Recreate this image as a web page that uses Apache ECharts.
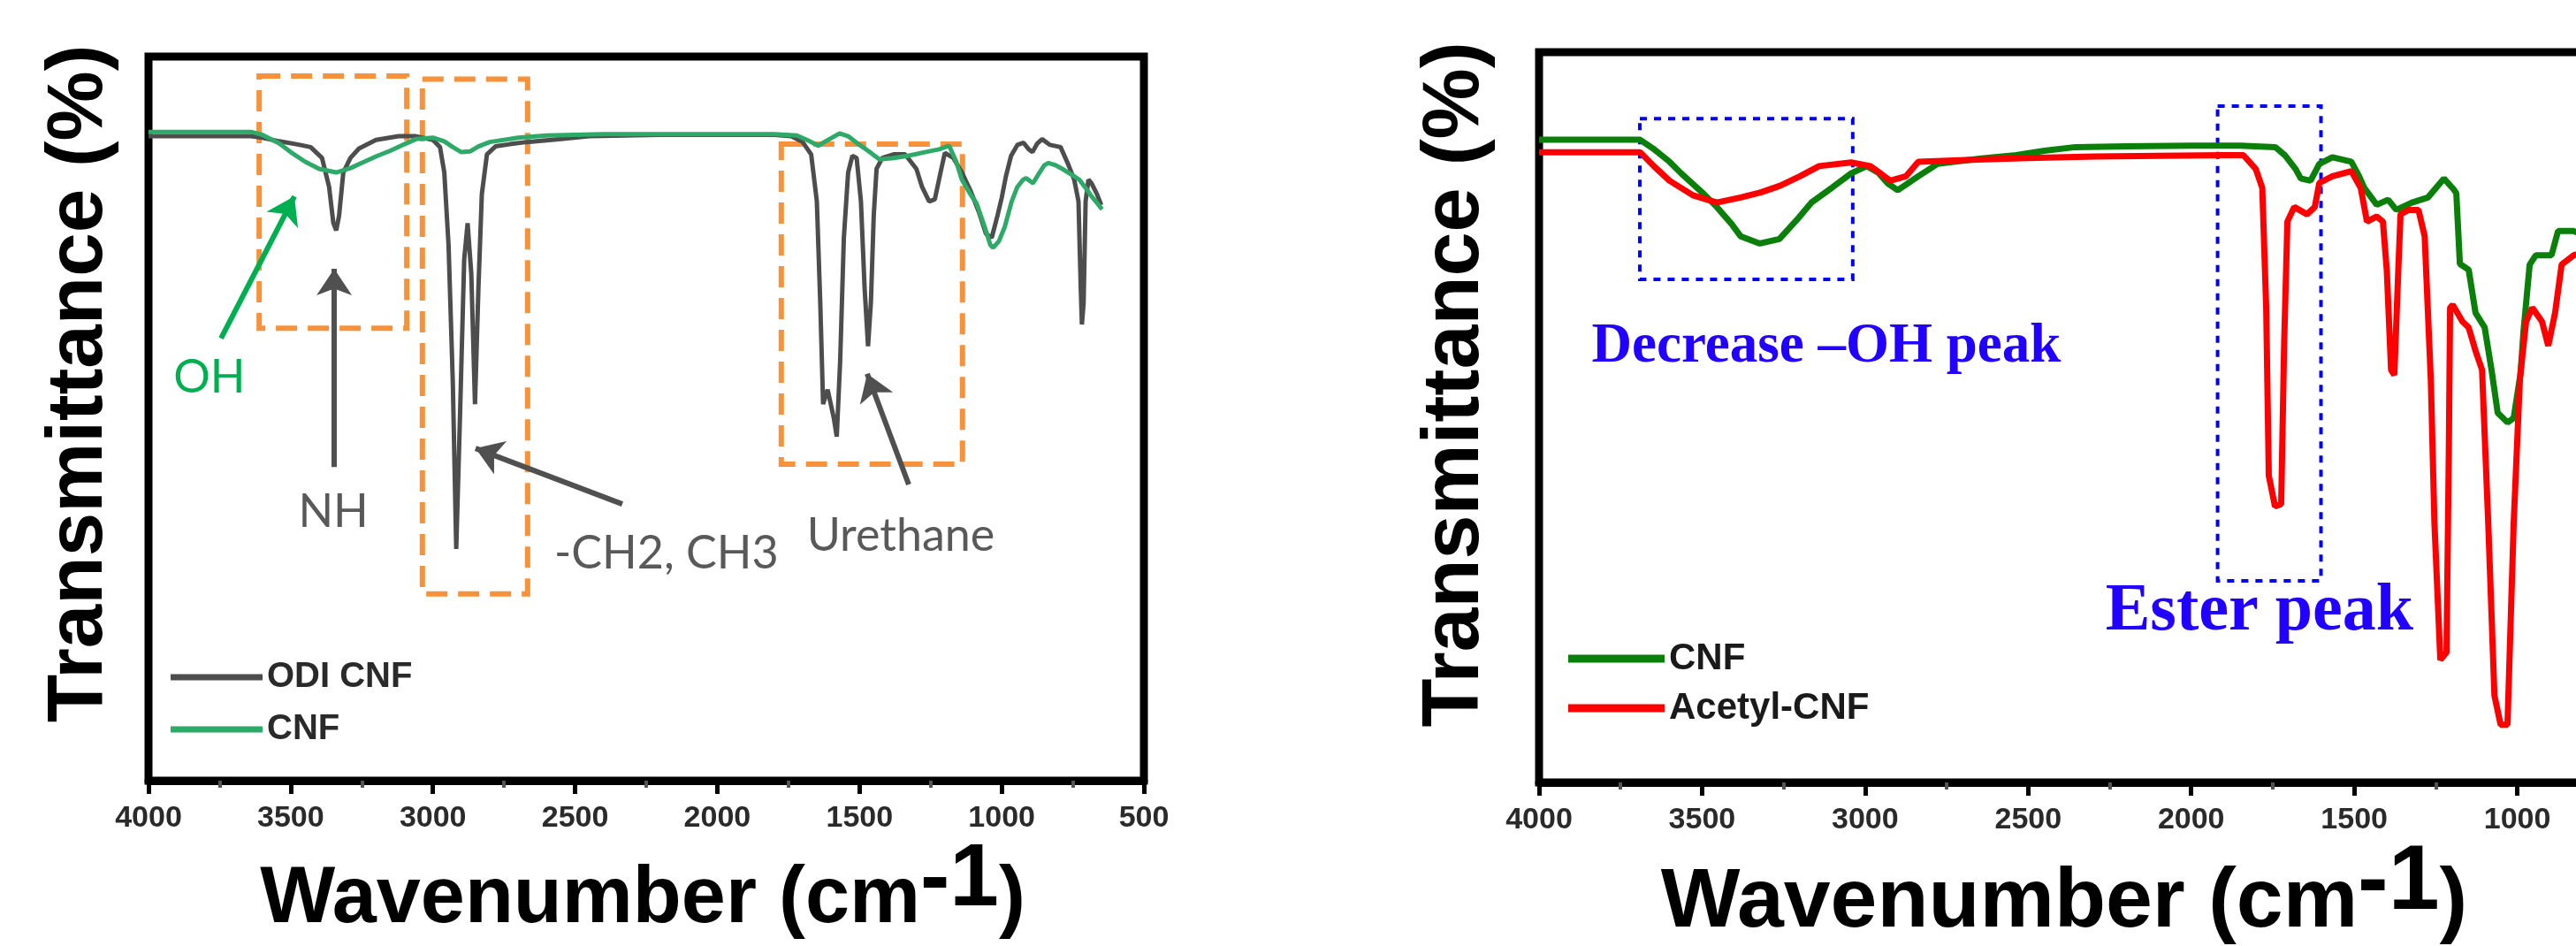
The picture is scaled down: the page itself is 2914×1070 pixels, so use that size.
<!DOCTYPE html>
<html><head><meta charset="utf-8">
<script src="https://cdn.jsdelivr.net/npm/echarts@6.0.0/dist/echarts.min.js"></script>
<style>html,body{margin:0;padding:0;background:#fff;overflow:hidden;width:2914px;height:1070px}#c{width:3100px;height:1070px}</style>
</head><body><div id="c"></div><script>
// ---------- DATA ----------
const xTickValues = [4000, 3500, 3000, 2500, 2000, 1500, 1000, 500];

// Left panel: ODI CNF (dark grey)
const odiWn = [4000,3800,3640,3600,3540,3480,3430,3390,3365,3350,3340,3330,3315,3290,3260,3200,3120,3060,3000,2975,2960,2945,2930,2918,2905,2890,2878,2865,2852,2840,2828,2810,2780,2730,2670,2550,2450,2200,1800,1740,1700,1670,1650,1638,1628,1612,1590,1580,1568,1555,1540,1525,1510,1495,1482,1470,1460,1450,1440,1420,1380,1340,1300,1280,1255,1235,1215,1200,1170,1140,1110,1080,1055,1035,1015,1000,985,967,945,923,905,892,875,858,830,793,765,745,730,722,718,712,705,695,684,665,650];
const odiT  = [89.0,89.0,89.0,88.8,88.3,87.9,87.5,86,82,77,76,78,84,86,87.3,88.5,89.0,89.0,88.5,87.5,84,74,55,32,50,72,77,70,52,68,81,86.5,87.6,87.9,88.2,88.6,89.0,89.2,89.2,89.0,88.2,86.5,80,66,52,54,50,47.5,58,75,84,86.3,86,80,68,60,66,78,84.5,86,86.5,86.5,84.5,82,80,80.3,84,86.7,86,84,81.5,78.5,75.5,75,78,80.5,83.5,86.3,87.8,88.1,87.2,86.8,88,88.6,87.8,87.5,85,83,80,68,63,66,80,83,82.5,81,79.5];

// Left panel: CNF (green)
const cnfLWn = [4000,3800,3640,3600,3540,3500,3450,3400,3340,3290,3240,3195,3150,3100,3060,3000,2960,2930,2900,2870,2840,2800,2700,2600,2400,1800,1720,1680,1645,1610,1570,1540,1500,1470,1430,1380,1330,1270,1220,1185,1160,1140,1110,1088,1060,1040,1030,1010,990,965,945,925,914,900,890,870,850,836,810,783,750,727,700,684,665,647];
const cnfLT  = [89.6,89.6,89.6,89.2,88,86.8,85.5,84.5,84,84.6,85.5,86.3,87,87.9,88.6,88.8,88.3,87.5,86.8,86.9,87.6,88.2,88.8,89.1,89.3,89.3,89.1,88.4,87.7,88.5,89.4,89,87.8,87,85.8,86,86.3,86.8,87.2,87.7,85.5,83,81,79.7,76.5,74,73.6,74.5,76.4,80,82,83,83.2,82.8,82.5,83.8,85,85.3,85,84.4,83.6,83,81.6,80.7,79.8,78.9];

// Right panel: CNF (green)
const cnfRWn = [4000,3800,3690,3650,3600,3564,3500,3455,3410,3382,3323,3263,3210,3165,3100,3043,2995,2960,2930,2900,2870,2837,2778,2650,2537,2450,2355,2200,2000,1850,1742,1713,1680,1664,1634,1607,1567,1509,1485,1469,1431,1396,1371,1323,1274,1225,1195,1187,1176,1149,1128,1100,1079,1060,1030,1011,990,981,962,943,895,875,827,800];
const cnfRT  = [88.0,88.0,88.0,86.8,85,83.4,80.8,78.8,76.5,74.8,73.8,74.4,77,79.4,81.5,83.4,84.4,83.5,82,81.1,82,83,84.7,85.4,85.9,86.5,87,87.1,87.2,87.2,87,85.9,84,82.7,82.4,84.7,85.6,85,83,81.4,79.1,79.8,78.4,79.4,80.1,82.7,81.2,80.7,71,70.2,64.3,62.3,56.5,50.6,49.3,49.9,56,61.7,70.9,72.2,72.2,75.5,75.5,75];

// Right panel: Acetyl-CNF (red)
const acWn = [4000,3800,3690,3648,3600,3528,3455,3382,3320,3261,3200,3141,3043,2984,2950,2923,2875,2837,2656,2500,2293,2100,1900,1840,1802,1782,1770,1762,1743,1724,1715,1705,1684,1645,1621,1607,1567,1509,1480,1461,1431,1412,1400,1387,1377,1365,1358,1333,1303,1284,1265,1254,1236,1217,1210,1206,1198,1168,1149,1128,1108,1089,1070,1051,1030,1011,992,973,954,924,905,884,864,827,800];
const acT  = [86.3,86.3,86.3,84.4,82.4,80.4,79.4,80.1,80.8,81.7,83,84.4,84.9,84.4,83.3,82.4,83,85,85.3,85.5,85.7,85.8,85.9,85.9,84,81.4,65,42,37.8,38.1,60,76.8,78.8,77.8,78.8,82.1,83,83.7,81.4,76.8,77.5,76.8,70,56.5,55.8,70,77.8,78.4,78.4,74.8,55,35.5,16.8,17.8,45,65,65.4,63.1,62.3,59.1,56.5,35.5,11.9,7.9,7.9,35.5,55.2,63.1,65,63.1,59.8,64.3,70.9,72.2,72.5];

const zip = (xs, ys) => xs.map((x, i) => [x, ys[i]]);

// ---------- ANNOTATIONS (data coordinates) ----------
const orangeBoxes = [[[3611, 97.3], [3092, 62.5]], [[3037, 96.9], [2667, 25.8]], [[1775, 87.9], [1138, 43.7]]];
const blueBoxes = [[[3691, 90.9], [3038, 68.9]], [[1919, 92.6], [1602, 27.6]]];
const leftArrows = [
  {from: [3745, 61.1], to: [3487, 80.7], color: '#00B050'},
  {from: [3347, 43.3], to: [3347, 70.7], color: '#505050'},
  {from: [2334, 38.2], to: [2850, 45.9], color: '#505050'},
  {from: [1327, 40.9], to: [1473, 56.2], color: '#505050'}
];
const leftLabels = [
  {text: 'OH', at: [3786, 55.7], color: '#00B050'},
  {text: 'NH', at: [3350, 37.1], color: '#595959'},
  {text: '-CH2, CH3', at: [2179, 31.4], color: '#595959'},
  {text: 'Urethane', at: [1355, 33.8], color: '#595959'}
];
const rightLabels = [
  {text: 'Decrease \u2013OH peak', at: [3119, 59.6], size: 63},
  {text: 'Ester peak', at: [1791, 23.3], size: 76}
];

// ---------- CHART ----------
const chart = echarts.init(document.getElementById('c'), null, {renderer: 'canvas'});
const CW = 3100; // container width (wider than the window so the right panel runs off-screen)

function makeX(gridIndex) {
  return {
    type: 'value', gridIndex, inverse: true, min: 500, max: 4000, interval: 500,
    axisLine: {show: true, onZero: false, lineStyle: {color: '#000', width: 9}},
    axisTick: {show: true, inside: false, length: 15, lineStyle: {color: '#000', width: 5}},
    minorTick: {show: true, splitNumber: 2, length: 8, lineStyle: {color: '#555', width: 4}},
    axisLabel: {show: true, margin: 26, fontSize: 34, fontWeight: 'bold', color: '#2a2a2a', fontFamily: 'Liberation Sans, Arial',
      formatter: v => xTickValues.includes(v) ? String(v) : ''},
    splitLine: {show: false}, minorSplitLine: {show: false}
  };
}
function makeY(gridIndex) {
  return {
    type: 'value', gridIndex, min: 0, max: 100,
    axisLine: {show: false}, axisTick: {show: false}, axisLabel: {show: false}, splitLine: {show: false}
  };
}
function boxArea(boxes, color, width, dash) {
  return {
    silent: true,
    itemStyle: {color: 'rgba(0,0,0,0)', borderColor: color, borderWidth: width, borderType: dash},
    data: boxes.map(b => [{coord: b[0]}, {coord: b[1]}])
  };
}

const titleFont = 'Liberation Sans, Arial';
const option = {
  animation: false,
  backgroundColor: '#fff',
  grid: [
    {left: 168, top: 64, right: CW - 1294, bottom: 187, show: true, borderColor: '#000', borderWidth: 9, backgroundColor: '#fff', containLabel: false, outerBoundsMode: 'none'},
    {left: 1741, top: 59, right: CW - 3032, bottom: 185, show: true, borderColor: '#000', borderWidth: 9, backgroundColor: '#fff', containLabel: false, outerBoundsMode: 'none'}
  ],
  xAxis: [makeX(0), makeX(1)],
  yAxis: [makeY(0), makeY(1)],
  legend: [
    {orient: 'vertical', left: 193, top: 743, padding: 0, itemWidth: 104, itemHeight: 7, itemGap: 13, icon: 'rect',
      textStyle: {fontSize: 40, fontWeight: 'bold', color: '#2a2a2a', fontFamily: 'Liberation Sans, Arial', lineHeight: 46},
      data: ['ODI CNF', 'CNF']},
    {orient: 'vertical', left: 1774, top: 722, padding: 0, itemWidth: 109, itemHeight: 9, itemGap: 10, icon: 'rect',
      textStyle: {fontSize: 42, fontWeight: 'bold', color: '#1a1a1a', fontFamily: 'Liberation Sans, Arial', lineHeight: 46},
      data: ['CNF ', 'Acetyl-CNF']}
  ],
  series: [
    {name: 'ODI CNF', type: 'line', xAxisIndex: 0, yAxisIndex: 0, symbol: 'none', data: zip(odiWn, odiT),
      lineStyle: {color: '#4d4d4d', width: 5}, itemStyle: {color: '#4d4d4d'},
      markArea: boxArea(orangeBoxes, '#F7923A', 6, [24, 12]),
      markLine: {silent: true, symbol: ['none', 'arrow'], symbolSize: 30, label: {show: false},
        data: leftArrows.map(a => [{coord: a.from, lineStyle: {color: a.color, width: 6, type: 'solid'}}, {coord: a.to}])},
      markPoint: {silent: true, symbol: 'circle', symbolSize: 0,
        data: leftLabels.map(l => ({name: l.text, coord: l.at, itemStyle: {color: 'rgba(0,0,0,0)'},
          label: {show: true, position: 'inside', formatter: l.text, color: l.color, fontSize: 52, fontFamily: 'Lato, Liberation Sans'}}))}
    },
    {name: 'CNF', type: 'line', xAxisIndex: 0, yAxisIndex: 0, symbol: 'none', data: zip(cnfLWn, cnfLT),
      lineStyle: {color: '#2DAA68', width: 5}, itemStyle: {color: '#2DAA68'}},
    {name: 'CNF ', type: 'line', xAxisIndex: 1, yAxisIndex: 1, symbol: 'none', data: zip(cnfRWn, cnfRT),
      lineStyle: {color: '#0A800A', width: 7}, itemStyle: {color: '#0A800A'}},
    {name: 'Acetyl-CNF', type: 'line', xAxisIndex: 1, yAxisIndex: 1, symbol: 'none', data: zip(acWn, acT),
      lineStyle: {color: '#FF0000', width: 7}, itemStyle: {color: '#FF0000'},
      markArea: boxArea(blueBoxes, '#0000FF', 4, [8, 8]),
      markPoint: {silent: true, symbol: 'circle', symbolSize: 0,
        data: rightLabels.map(l => ({name: l.text, coord: l.at, itemStyle: {color: 'rgba(0,0,0,0)'},
          label: {show: true, position: 'inside', formatter: l.text, color: '#2200FF', fontSize: l.size, fontWeight: 'bold', fontFamily: 'Liberation Serif, Times New Roman'}}))}
    }
  ],
  graphic: [
    {type: 'text', x: 90, y: 434, rotation: Math.PI / 2,
      style: {text: 'Transmittance (%)', font: 'bold 89px ' + titleFont, fill: '#000', align: 'center', verticalAlign: 'middle'}},
    {type: 'text', x: 1647, y: 435, rotation: Math.PI / 2,
      style: {text: 'Transmittance (%)', font: 'bold 90px ' + titleFont, fill: '#000', align: 'center', verticalAlign: 'middle'}},
    {type: 'text', x: 727, y: 1018,
      style: {text: '{a|Wavenumber (cm}{b|-1}{a|)}', align: 'center', verticalAlign: 'middle', fill: '#000',
        rich: {a: {fontSize: 90, fontWeight: 'bold', fontFamily: titleFont, fill: '#000'},
               b: {fontSize: 100, fontWeight: 'bold', fontFamily: titleFont, fill: '#000', padding: [0, 0, 44, 0]}}}},
    {type: 'text', x: 2335, y: 1022,
      style: {text: '{a|Wavenumber (cm}{b|-1}{a|)}', align: 'center', verticalAlign: 'middle', fill: '#000',
        rich: {a: {fontSize: 95, fontWeight: 'bold', fontFamily: titleFont, fill: '#000'},
               b: {fontSize: 104, fontWeight: 'bold', fontFamily: titleFont, fill: '#000', padding: [0, 0, 46, 0]}}}}
  ]
};
chart.setOption(option);
</script></body></html>
